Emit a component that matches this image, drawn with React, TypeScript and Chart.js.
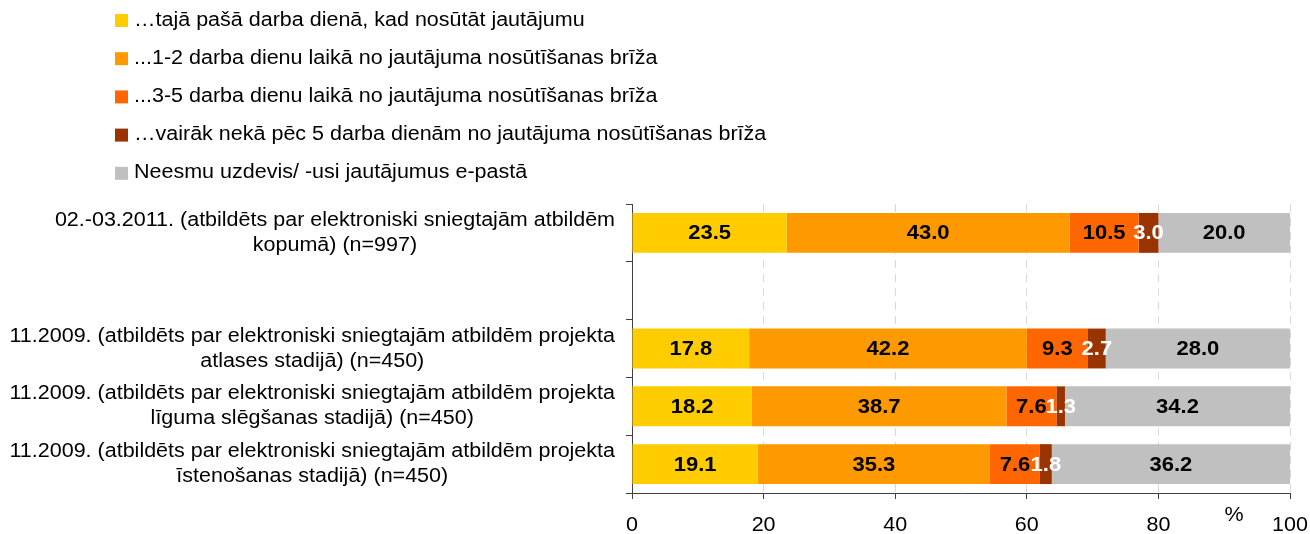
import React, { useEffect, useRef } from "react";
import { Chart, registerables } from "chart.js";

Chart.register(...registerables);

const FONT = "'Liberation Sans', Arial, sans-serif";

// ---- data ----
const categories: string[][] = [
  ["02.-03.2011. (atbildēts par elektroniski sniegtajām atbildēm", "kopumā) (n=997)"],
  [""],
  ["11.2009. (atbildēts par elektroniski sniegtajām atbildēm projekta", "atlases stadijā) (n=450)"],
  ["11.2009. (atbildēts par elektroniski sniegtajām atbildēm projekta", "līguma slēgšanas stadijā) (n=450)"],
  ["11.2009. (atbildēts par elektroniski sniegtajām atbildēm projekta", "īstenošanas stadijā) (n=450)"],
];

const seriesNames = [
  "…tajā pašā darba dienā, kad nosūtāt jautājumu",
  "...1-2 darba dienu laikā no jautājuma nosūtīšanas brīža",
  "...3-5 darba dienu laikā no jautājuma nosūtīšanas brīža",
  "…vairāk nekā pēc 5 darba dienām no jautājuma nosūtīšanas brīža",
  "Neesmu uzdevis/ -usi jautājumus e-pastā",
];

const sameDay = [23.5, null, 17.8, 18.2, 19.1];
const days1to2 = [43.0, null, 42.2, 38.7, 35.3];
const days3to5 = [10.5, null, 9.3, 7.6, 7.6];
const moreThan5 = [3.0, null, 2.7, 1.3, 1.8];
const notAsked = [20.0, null, 28.0, 34.2, 36.2];

const xTicks = [0, 20, 40, 60, 80, 100];
const axisUnit = "%";

const seriesColors = ["#FFCC00", "#FF9900", "#FF6600", "#993300", "#C0C0C0"];
const labelColors = ["#000000", "#000000", "#000000", "#FFFFFF", "#000000"];

const SX = 1.075; // horizontal text stretch
const SXB = 1.1;

function drawText(ctx: CanvasRenderingContext2D, text: string, x: number, y: number, align: CanvasTextAlign, sx = SX) {
  ctx.save();
  ctx.translate(x, y);
  ctx.scale(sx, 1);
  ctx.textAlign = align;
  ctx.fillText(text, 0, 0);
  ctx.restore();
}

const decorPlugin = {
  id: "decor",
  afterDatasetsDraw(chart: any) {
    const ctx: CanvasRenderingContext2D = chart.ctx;
    ctx.save();
    ctx.font = `bold 20px ${FONT}`;
    ctx.textBaseline = "middle";
    chart.data.datasets.forEach((ds: any, di: number) => {
      const meta = chart.getDatasetMeta(di);
      meta.data.forEach((el: any, i: number) => {
        const v = ds.data[i];
        if (v === null || v === undefined) return;
        const c = el.getCenterPoint();
        ctx.fillStyle = labelColors[di];
        drawText(ctx, v.toFixed(1), c.x, c.y + 1, "center", SXB);
      });
    });
    ctx.restore();
  },
  afterDraw(chart: any) {
    const ctx: CanvasRenderingContext2D = chart.ctx;
    ctx.save();
    ctx.font = `20px ${FONT}`;
    ctx.textBaseline = "middle";
    // legend
    chart.data.datasets.forEach((ds: any, i: number) => {
      const cy = 20 + i * 38.2;
      ctx.fillStyle = ds.backgroundColor;
      ctx.fillRect(115, cy - 6, 13, 13);
      ctx.fillStyle = "#000";
      drawText(ctx, ds.label, 134, cy, "left");
    });
    // category labels
    const y = chart.scales.y;
    const right = chart.chartArea.left - 17;
    categories.forEach((lines, i) => {
      const cy = y.getPixelForValue(i);
      const w = Math.max(...lines.map((l) => ctx.measureText(l).width * SX));
      const cx = right - w / 2;
      ctx.fillStyle = "#000";
      lines.forEach((l, j) => {
        drawText(ctx, l, cx, cy + (j - (lines.length - 1) / 2) * 25, "center");
      });
    });
    // x tick labels
    const x = chart.scales.x;
    const bottom = chart.chartArea.bottom;
    xTicks.forEach((v) => {
      drawText(ctx, String(v), x.getPixelForValue(v), bottom + 32, "center");
    });
    // unit
    drawText(ctx, axisUnit, x.getPixelForValue(91.5), bottom + 22, "center");
    ctx.restore();
  },
};

export default function App() {
  const ref = useRef<HTMLCanvasElement | null>(null);
  useEffect(() => {
    if (!ref.current) return;
    const series = [sameDay, days1to2, days3to5, moreThan5, notAsked];
    const chart = new Chart(ref.current, {
      type: "bar",
      data: {
        labels: categories.map((c) => c.join(" ")),
        datasets: series.map((d, i) => ({
          label: seriesNames[i],
          data: d as any,
          backgroundColor: seriesColors[i],
          borderWidth: 0,
          barPercentage: 0.69,
          categoryPercentage: 1,
        })),
      },
      options: {
        indexAxis: "y",
        animation: false,
        responsive: false,
        maintainAspectRatio: false,
        layout: { padding: { top: 204, right: 20, left: 0, bottom: 0 } },
        plugins: {
          legend: { display: false },
          tooltip: { enabled: false },
        },
        scales: {
          x: {
            stacked: true,
            min: 0,
            max: 100,
            afterBuildTicks: (s: any) => {
              s.ticks = xTicks.map((v) => ({ value: v }));
            },
            afterFit: (s: any) => {
              s.height = 41;
            },
            ticks: { display: false },
            grid: {
              color: "#D9D9D9",
              tickColor: "#404040",
              drawTicks: true,
              tickLength: 6,
            },
            border: { display: true, color: "#404040", dash: [8, 6] },
          },
          y: {
            stacked: true,
            afterFit: (s: any) => {
              s.width = 632;
            },
            ticks: { display: false },
            grid: {
              drawOnChartArea: false,
              drawTicks: true,
              tickLength: 6,
              tickColor: "#404040",
              offset: true,
            },
            border: { display: true, color: "#404040" },
          },
        },
      },
      plugins: [decorPlugin],
    });
    return () => chart.destroy();
  }, []);
  return (
    <div style={{ position: "fixed", left: 0, top: 0, width: 1310, height: 534, background: "#fff" }}>
      <canvas ref={ref} width={1310} height={534} style={{ width: 1310, height: 534 }} />
    </div>
  );
}
